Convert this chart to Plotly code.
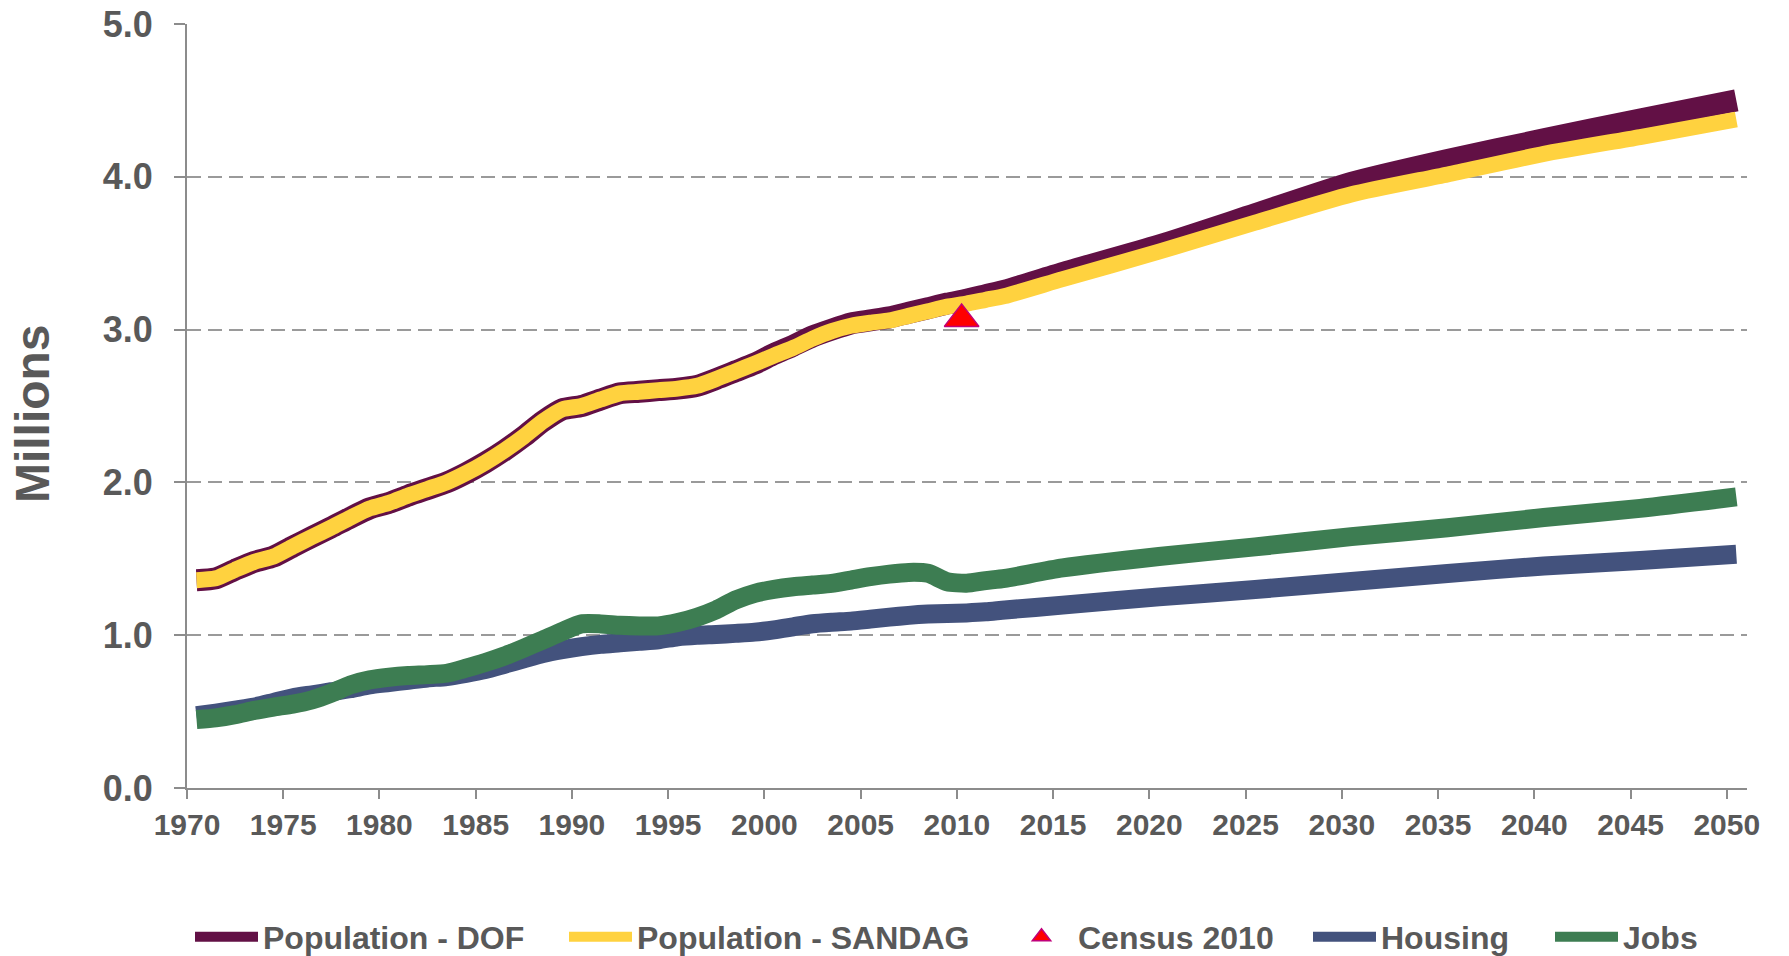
import plotly.graph_objects as go

# ---- data ----
years = list(range(1970, 2013)) + [2015, 2020, 2025, 2030, 2035, 2040, 2045, 2050]

pop_dof = [1.36, 1.372, 1.428, 1.48, 1.515, 1.58, 1.643, 1.705, 1.77, 1.83,
           1.866, 1.914, 1.957, 2.00, 2.06, 2.13, 2.21, 2.30, 2.40, 2.478,
           2.50, 2.543, 2.583, 2.593, 2.604, 2.614, 2.632, 2.677, 2.727, 2.777,
           2.84, 2.895, 2.955, 3.00, 3.04, 3.06, 3.08, 3.11, 3.14, 3.17,
           3.195, 3.225, 3.255,
           3.37, 3.55, 3.755, 3.96, 4.11, 4.245, 4.375, 4.50]

pop_sandag = [1.36, 1.372, 1.428, 1.48, 1.515, 1.58, 1.643, 1.705, 1.77, 1.83,
              1.866, 1.914, 1.957, 2.00, 2.06, 2.13, 2.21, 2.30, 2.40, 2.478,
              2.50, 2.543, 2.583, 2.593, 2.604, 2.614, 2.632, 2.677, 2.727, 2.777,
              2.83, 2.88, 2.94, 2.99, 3.025, 3.045, 3.06, 3.09, 3.12, 3.15,
              3.17, 3.195, 3.22,
              3.33, 3.51, 3.70, 3.885, 4.015, 4.15, 4.26, 4.375]

housing = [0.473, 0.49, 0.51, 0.53, 0.56, 0.59, 0.61, 0.63, 0.65, 0.675,
           0.69, 0.705, 0.72, 0.73, 0.75, 0.775, 0.81, 0.845, 0.88, 0.905,
           0.925, 0.94, 0.95, 0.96, 0.97, 0.99, 1.00, 1.005, 1.012, 1.02,
           1.035, 1.055, 1.075, 1.085, 1.092, 1.105, 1.118, 1.13, 1.138, 1.142,
           1.146, 1.153, 1.165,
           1.197, 1.251, 1.299, 1.351, 1.404, 1.453, 1.489, 1.53]

jobs = [0.448, 0.459, 0.48, 0.508, 0.53, 0.549, 0.577, 0.621, 0.675, 0.708,
        0.725, 0.736, 0.742, 0.751, 0.784, 0.821, 0.864, 0.915, 0.969, 1.024,
        1.074, 1.074, 1.065, 1.061, 1.061, 1.083, 1.118, 1.166, 1.23, 1.274,
        1.30, 1.317, 1.328, 1.339, 1.361, 1.383, 1.40, 1.411, 1.405, 1.35,
        1.34, 1.357, 1.372,
        1.44, 1.515, 1.578, 1.645, 1.703, 1.77, 1.83, 1.905]

census_date = ["2010-04-01"]
census_value = [3.07]

tick_years = list(range(1970, 2051, 5))
y_ticks = [0, 1, 2, 3, 4, 5]

# ---- layout constants ----
W, H = 1789, 956
ML, MR, MT, MB = 187, 42, 24, 168
PW = W - ML - MR
PH = H - MT - MB

FONT = "Liberation Sans, Arial, sans-serif"
TXT = "#595959"
AXC = "#8c8c8c"

x_dates = [f"{y}-07-01" for y in years]


def px_x(p):
    return (p - ML) / PW


LEG_Y = -0.195
LEG_FONT = dict(family=FONT, size=32, color=TXT, weight="bold")


def leg(xpx):
    return dict(orientation="h", x=px_x(xpx), xanchor="left", y=LEG_Y, yanchor="middle",
                font=LEG_FONT, itemwidth=63, bgcolor="rgba(0,0,0,0)")


fig = go.Figure()
fig.add_trace(go.Scatter(x=x_dates, y=pop_dof, name="Population - DOF", mode="lines",
                         legend="legend",
                         line=dict(color="#621045", width=22, shape="spline", smoothing=0.6)))
fig.add_trace(go.Scatter(x=x_dates, y=pop_sandag, name="Population - SANDAG", mode="lines",
                         legend="legend2",
                         line=dict(color="#FFD23F", width=16, shape="spline", smoothing=0.6)))
fig.add_trace(go.Scatter(x=census_date, y=census_value, name="Census 2010", mode="markers",
                         legend="legend3",
                         marker=dict(symbol="triangle-up", size=30, color="#FF0000",
                                     line=dict(color="#C0007A", width=1.5))))
fig.add_trace(go.Scatter(x=x_dates, y=housing, name="Housing", mode="lines",
                         legend="legend4",
                         line=dict(color="#43527D", width=19, shape="spline", smoothing=0.6)))
fig.add_trace(go.Scatter(x=x_dates, y=jobs, name="Jobs", mode="lines",
                         legend="legend5",
                         line=dict(color="#3D7D52", width=19, shape="spline", smoothing=0.6)))

fig.update_layout(
    width=W, height=H,
    margin=dict(l=ML, r=MR, t=MT, b=MB, autoexpand=False),
    paper_bgcolor="white", plot_bgcolor="white",
    font=dict(family=FONT, color=TXT),
    showlegend=True,
    legend=leg(190),
    legend2=leg(564),
    legend3=leg(1005),
    legend4=leg(1308),
    legend5=leg(1550),
    xaxis=dict(type="date", range=["1970-01-01", "2051-01-20"],
               tickvals=[f"{y}-01-01" for y in tick_years],
               ticktext=[str(y) for y in tick_years],
               ticks="outside", ticklen=9, tickwidth=1.5, tickcolor=AXC,
               showline=True, linecolor=AXC, linewidth=2,
               showgrid=False, zeroline=False, automargin=False,
               tickfont=dict(family=FONT, size=30, color=TXT, weight="bold")),
    yaxis=dict(range=[0, 5], tickvals=y_ticks, tickformat=".1f",
               ticks="outside", ticklen=11, tickwidth=1.5, tickcolor=AXC,
               showline=True, linecolor=AXC, linewidth=2,
               showgrid=True, gridcolor="#9a9a9a", gridwidth=1.5, griddash="14px,7px",
               zeroline=False, ticklabelstandoff=14, automargin=False,
               tickfont=dict(family=FONT, size=36, color=TXT, weight="bold")),
    annotations=[dict(text="Millions", textangle=-90, xref="paper", yref="paper",
                      x=px_x(32.5), y=(788.4 - 414) / PH,
                      xanchor="center", yanchor="middle", showarrow=False,
                      font=dict(family=FONT, size=48, color=TXT, weight="bold"))],
)

fig.write_html("out.html",
               config={"displayModeBar": False},
               post_script="document.body.style.margin='0px';document.body.style.overflow='hidden';")
